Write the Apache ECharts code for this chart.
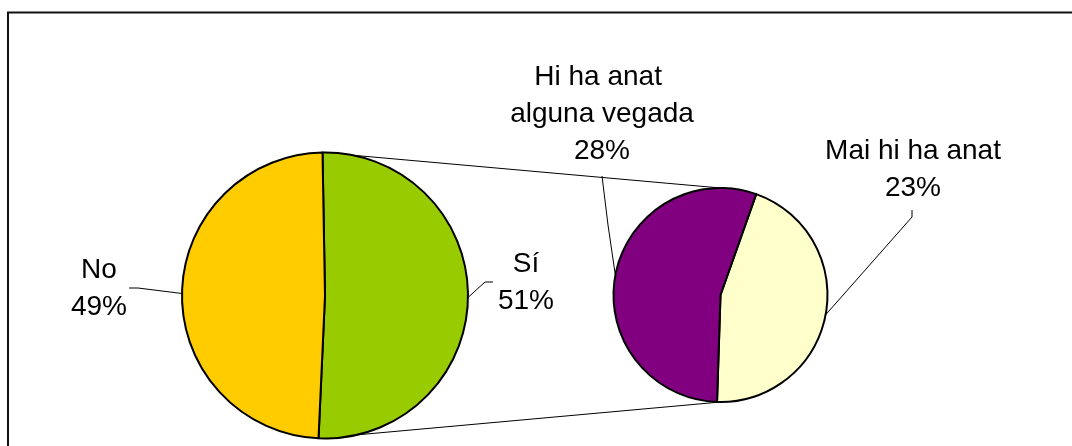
<!DOCTYPE html>
<html style="height: 100%">
   <head>
       <meta charset="utf-8">
   </head>
   <body style="height: 100%; margin: 0; background: #fff">
       <div id="container" style="height: 446px; width: 1072px;"></div>
       <script type="text/javascript" src="https://cdn.jsdelivr.net/npm/echarts@6/dist/echarts.min.js"></script>
       <script type="text/javascript">
        // data
        var mainNames = ['Sí', 'No'];
        var mainValues = [51, 49];
        var subNames = ['Mai hi ha anat', 'Hi ha anat alguna vegada'];
        var subValues = [23, 28];
        var mainColors = ['#99CC00', '#FFCC00'];
        var subColors = ['#FFFFCC', '#800080'];

        // layout
        var mainPie = { cx: 325, cy: 295.5, r: 143, start: 91 };
        var subPie = { cx: 720.5, cy: 295, r: 107, start: 70.5 };
        var labelPos = [
            [ { x: 526, y: 283, pts: [[485, 282], [493, 282]] },
              { x: 99, y: 289, pts: [[138, 288], [129, 288]] } ],
            [ { x: 913, y: 170, pts: [[912, 217], [912, 210]] },
              { x: 602, y: 114, pts: [[608, 225], [602, 176]] } ]
        ];

        function sum(a) { return a.reduce(function (s, v) { return s + v; }, 0); }
        function pt(p, deg) {
            var a = deg * Math.PI / 180;
            return [p.cx + p.r * Math.cos(a), p.cy - p.r * Math.sin(a)];
        }
        function midAngle(p, values, idx) {
            var tot = sum(values), acc = 0;
            for (var i = 0; i < idx; i++) acc += values[i];
            return p.start - 360 * (acc + values[idx] / 2) / tot;
        }

        var mainSpan = 360 * mainValues[0] / sum(mainValues);
        var pTop = pt(mainPie, mainPie.start);
        var pBot = pt(mainPie, mainPie.start - mainSpan);

        function toData(names, values, colors) {
            return names.map(function (n, i) {
                return { name: n, value: values[i], itemStyle: { color: colors[i] } };
            });
        }

        var labelCfg = {
            show: true,
            position: 'outside',
            formatter: '{b}\n{c}%',
            color: '#000',
            fontFamily: 'Liberation Sans, Arial, sans-serif',
            fontSize: 28,
            lineHeight: 37,
            width: 200,
            overflow: 'break',
            align: 'center'
        };

        function layoutFn(pie, values, si) {
            return function (params) {
                var lp = labelPos[si][params.dataIndex];
                var edge = pt(pie, midAngle(pie, values, params.dataIndex));
                return {
                    x: lp.x, y: lp.y, align: 'center', verticalAlign: 'middle',
                    labelLinePoints: [edge, lp.pts[0], lp.pts[1]]
                };
            };
        }

        var dom = document.getElementById("container");
        var myChart = echarts.init(dom);
        var option = {
            backgroundColor: '#fff',
            animation: false,
            graphic: [
                { type: 'rect', z: 0, shape: { x: 8, y: 12.5, width: 1100, height: 500 },
                  style: { fill: 'none', stroke: '#111', lineWidth: 2 } },
                { type: 'line', z: 1, shape: { x1: pTop[0], y1: pTop[1], x2: subPie.cx, y2: subPie.cy - subPie.r },
                  style: { stroke: '#000', lineWidth: 1 } },
                { type: 'line', z: 1, shape: { x1: pBot[0], y1: pBot[1], x2: subPie.cx, y2: subPie.cy + subPie.r },
                  style: { stroke: '#000', lineWidth: 1 } }
            ],
            series: [{
                type: 'pie',
                center: [mainPie.cx, mainPie.cy],
                radius: [0, mainPie.r],
                startAngle: mainPie.start,
                clockwise: true,
                avoidLabelOverlap: false,
                silent: true,
                itemStyle: { borderColor: '#000', borderWidth: 2 },
                label: labelCfg,
                labelLine: { show: true, lineStyle: { color: '#000', width: 1 } },
                labelLayout: layoutFn(mainPie, mainValues, 0),
                data: toData(mainNames, mainValues, mainColors)
            }, {
                type: 'pie',
                center: [subPie.cx, subPie.cy],
                radius: [0, subPie.r],
                startAngle: subPie.start,
                clockwise: true,
                avoidLabelOverlap: false,
                silent: true,
                itemStyle: { borderColor: '#000', borderWidth: 2 },
                label: labelCfg,
                labelLine: { show: true, lineStyle: { color: '#000', width: 1 } },
                labelLayout: layoutFn(subPie, subValues, 1),
                data: toData(subNames, subValues, subColors)
            }]
        };

        myChart.setOption(option, true);
       </script>
   </body>
</html>
